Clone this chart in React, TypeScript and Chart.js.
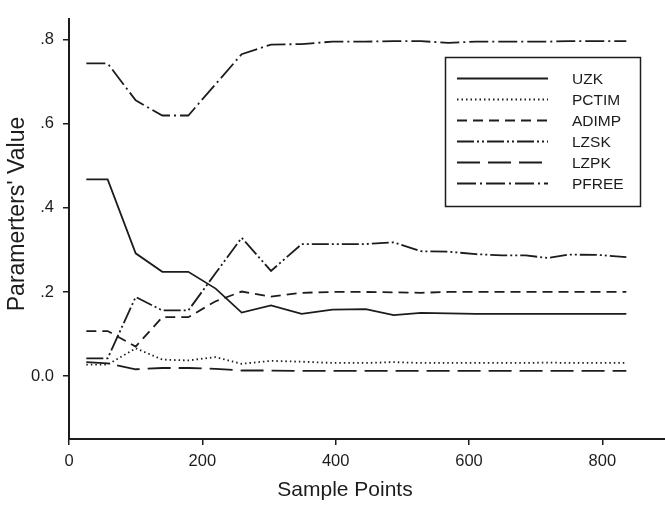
import React, { useEffect, useRef } from "react";
import { Chart, registerables } from "chart.js";

Chart.register(...registerables);

// ---- data ----
const samplePoints = [26, 58, 100, 140, 179, 220, 259, 303, 349, 395, 445, 487, 528, 569, 610, 650, 685, 718, 750, 795, 836];
const uzk = [0.468, 0.468, 0.292, 0.248, 0.248, 0.208, 0.151, 0.168, 0.148, 0.158, 0.159, 0.145, 0.15, 0.149, 0.148, 0.148, 0.148, 0.148, 0.148, 0.148, 0.148];
const pctim = [0.027, 0.027, 0.066, 0.039, 0.037, 0.045, 0.029, 0.036, 0.034, 0.031, 0.031, 0.033, 0.031, 0.031, 0.031, 0.031, 0.031, 0.032, 0.031, 0.031, 0.031];
const adimp = [0.107, 0.107, 0.07, 0.14, 0.14, 0.178, 0.201, 0.189, 0.198, 0.2, 0.2, 0.199, 0.198, 0.2, 0.2, 0.2, 0.2, 0.2, 0.2, 0.2, 0.2];
const lzsk = [0.042, 0.042, 0.188, 0.156, 0.156, 0.245, 0.329, 0.25, 0.314, 0.314, 0.314, 0.318, 0.297, 0.296, 0.29, 0.287, 0.287, 0.281, 0.289, 0.288, 0.283];
const lzpk = [0.033, 0.03, 0.016, 0.019, 0.019, 0.017, 0.013, 0.013, 0.012, 0.012, 0.012, 0.012, 0.012, 0.012, 0.012, 0.012, 0.012, 0.012, 0.012, 0.012, 0.012];
const pfree = [0.744, 0.744, 0.656, 0.62, 0.62, 0.695, 0.766, 0.789, 0.79, 0.796, 0.796, 0.797, 0.797, 0.793, 0.796, 0.796, 0.796, 0.796, 0.797, 0.797, 0.797];

const seriesNames = ["UZK", "PCTIM", "ADIMP", "LZSK", "LZPK", "PFREE"];
const seriesValues = [uzk, pctim, adimp, lzsk, lzpk, pfree];
const seriesDashes = [[], [1.5, 3], [10, 6], [17, 3, 2, 3, 2, 3], [23, 8], [19, 4, 2, 4]];

const xTicks = [0, 200, 400, 600, 800];
const yTicks = [0, 0.2, 0.4, 0.6, 0.8];
const yTickLabels = ["0.0", ".2", ".4", ".6", ".8"];
const xTitle = "Sample Points";
const yTitle = "Paramerters' Value";

const FONT = 'Arial, "Liberation Sans", sans-serif';
const INK = "#1c1c1c";

const overlayPlugin = {
  id: "overlay",
  afterDraw(chart: any) {
    const ctx = chart.ctx;
    ctx.save();
    // legend box
    ctx.strokeStyle = INK;
    ctx.lineWidth = 1.5;
    ctx.setLineDash([]);
    ctx.strokeRect(445.5, 57.5, 195, 149);
    chart.data.datasets.forEach((ds: any, i: number) => {
      const y = 78.5 + i * 21;
      ctx.strokeStyle = INK;
      ctx.lineWidth = ds.borderWidth;
      ctx.setLineDash(ds.borderDash || []);
      ctx.beginPath();
      ctx.moveTo(457, y);
      ctx.lineTo(548, y);
      ctx.stroke();
      ctx.setLineDash([]);
      ctx.fillStyle = INK;
      ctx.font = `15.5px ${FONT}`;
      ctx.textAlign = "left";
      ctx.textBaseline = "middle";
      ctx.fillText(ds.label, 572, y + 1);
    });
    // x axis title
    ctx.font = `21px ${FONT}`;
    ctx.fillStyle = INK;
    ctx.textAlign = "center";
    ctx.textBaseline = "middle";
    ctx.fillText(xTitle, 345, 490);
    // y axis title
    ctx.translate(18, 214);
    ctx.rotate(-Math.PI / 2);
    ctx.font = `23px ${FONT}`;
    ctx.fillText(yTitle, 0, 0);
    ctx.restore();
  },
};

export default function App() {
  const ref = useRef<HTMLCanvasElement | null>(null);
  useEffect(() => {
    if (!ref.current) return;
    const chart = new Chart(ref.current, {
      type: "line",
      data: {
        datasets: seriesNames.map((name, i) => ({
          label: name,
          data: samplePoints.map((x, j) => ({ x, y: seriesValues[i][j] })),
          borderColor: INK,
          borderWidth: 1.8,
          borderDash: seriesDashes[i],
          pointRadius: 0,
          tension: 0,
          fill: false,
        })),
      },
      options: {
        responsive: false,
        animation: false,
        devicePixelRatio: 1,
        layout: { padding: { top: 7, left: 0, right: 0, bottom: 0 } },
        plugins: { legend: { display: false }, tooltip: { enabled: false } },
        scales: {
          x: {
            type: "linear",
            min: 0,
            max: 894,
            afterBuildTicks: (axis: any) => {
              axis.ticks = xTicks.map((v) => ({ value: v }));
            },
            afterFit: (axis: any) => {
              axis.height = 66;
            },
            grid: { drawOnChartArea: false, drawTicks: true, tickLength: 6, color: INK, lineWidth: 1.5 },
            border: { display: true, color: INK, width: 2 },
            ticks: { color: INK, font: { family: FONT, size: 16.5 }, padding: 7, maxRotation: 0 },
            title: { display: false },
          },
          y: {
            type: "linear",
            min: -0.15,
            max: 0.85,
            afterBuildTicks: (axis: any) => {
              axis.ticks = yTicks.map((v) => ({ value: v }));
            },
            afterFit: (axis: any) => {
              axis.width = 69;
            },
            grid: { drawOnChartArea: false, drawTicks: true, tickLength: 6, color: INK, lineWidth: 1.5 },
            border: { display: true, color: INK, width: 2 },
            ticks: {
              color: INK,
              font: { family: FONT, size: 16.5 },
              padding: 9,
              callback: (v: any) => {
                const idx = yTicks.findIndex((t) => Math.abs(t - Number(v)) < 1e-9);
                return idx >= 0 ? yTickLabels[idx] : "";
              },
            },
            title: { display: false },
          },
        },
      },
      plugins: [overlayPlugin],
    });
    return () => chart.destroy();
  }, []);

  return (
    <div style={{ position: "absolute", left: 0, top: 0, width: 665, height: 505, background: "#fff" }}>
      <canvas ref={ref} width={665} height={505} style={{ display: "block" }} />
    </div>
  );
}
